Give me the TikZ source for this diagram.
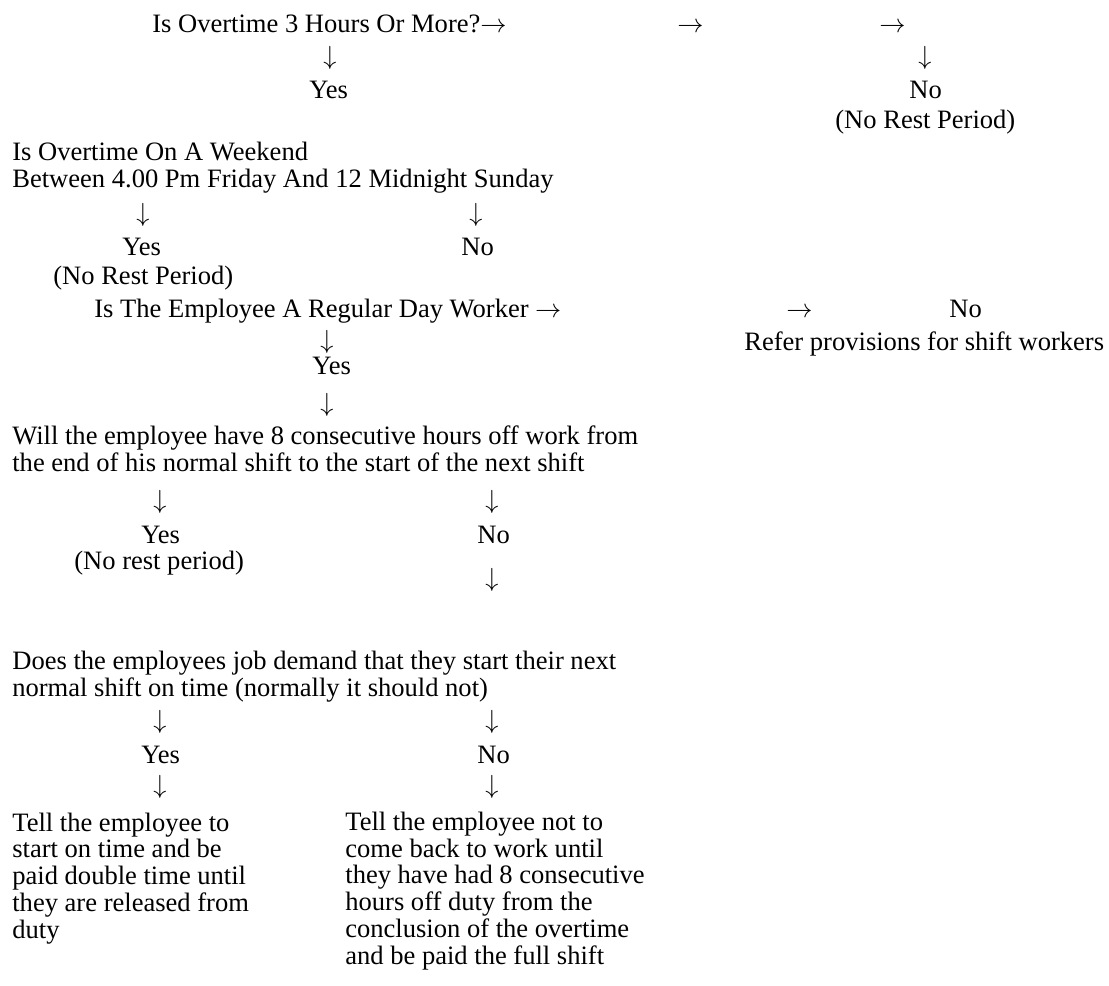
\documentclass[tikz,border=0pt]{standalone}
\usepackage{fontspec}
\setmainfont{Liberation Serif}
\newcommand{\ra}{$\rightarrow$}
\newcommand{\da}{$\downarrow$}
\begin{document}
\begin{tikzpicture}[x=0.55pt,y=-0.55pt,
  txt/.style={inner sep=0pt,anchor=base west,font=\fontsize{14.6}{14.7}\selectfont},
  par/.style={txt,align=left},
  dn/.style={inner sep=0pt,anchor=base,font=\fontsize{14.6}{14.7}\selectfont}]
\useasboundingbox (0,0) rectangle (1109,985);
% row 1
\node[txt] (q1) at (152,32) {Is Overtime 3 Hours Or More?\ra};
\node[txt] (a1b) at (677,32) {\ra};
\node[txt] (a1c) at (879,32) {\ra};
\node[dn] (d1) at (330,64) {\da};
\node[txt] (y1) at (309,98) {Yes};
\node[dn] (d1r) at (925,64) {\da};
\node[txt] (n1) at (909,98) {No};
\node[txt] (nr1) at (835,128) {(No Rest Period)};
% row 2
\node[par] (q2) at (12,187) {Is Overtime On A Weekend\\Between 4.00 Pm Friday And 12 Midnight Sunday};
\node[dn] (d2l) at (143,221) {\da};
\node[dn] (d2r) at (476,221) {\da};
\node[txt] (y2) at (122,255) {Yes};
\node[txt] (n2) at (461,255) {No};
\node[txt] (nr2) at (53,284) {(No Rest Period)};
% row 3
\node[txt] (q3) at (94,317) {Is The Employee A Regular Day Worker \ra};
\node[txt] (a3) at (786,317) {\ra};
\node[txt] (n3) at (949,317) {No};
\node[txt] (r3) at (744,350) {Refer provisions for shift workers};
\node[dn] (d3) at (327,348) {\da};
\node[txt] (y3) at (312,374) {Yes};
\node[dn] (d3b) at (327,411) {\da};
% row 4
\node[par] (q4) at (12,471) {Will the employee have 8 consecutive hours off work from\\the end of his normal shift to the start of the next shift};
\node[dn] (d4l) at (160,508) {\da};
\node[dn] (d4r) at (492,508) {\da};
\node[txt] (y4) at (141,543) {Yes};
\node[txt] (n4) at (477,543) {No};
\node[txt] (nr4) at (74,569) {(No rest period)};
\node[dn] (d4b) at (492,586) {\da};
% row 5
\node[par] (q5) at (12,696) {Does the employees job demand that they start their next\\normal shift on time (normally it should not)};
\node[dn] (d5l) at (160,728) {\da};
\node[dn] (d5r) at (492,728) {\da};
\node[txt] (y5) at (141,763) {Yes};
\node[txt] (n5) at (477,763) {No};
\node[dn] (d6l) at (160,793) {\da};
\node[dn] (d6r) at (492,793) {\da};
% row 6
\node[par] (t1) at (12,938) {Tell the employee to\\start on time and be\\paid double time until\\they are released from\\duty};
\node[par] (t2) at (345,964) {Tell the employee not to\\come back to work until\\they have had 8 consecutive\\hours off duty from the\\conclusion of the overtime\\and be paid the full shift};
\end{tikzpicture}
\end{document}
